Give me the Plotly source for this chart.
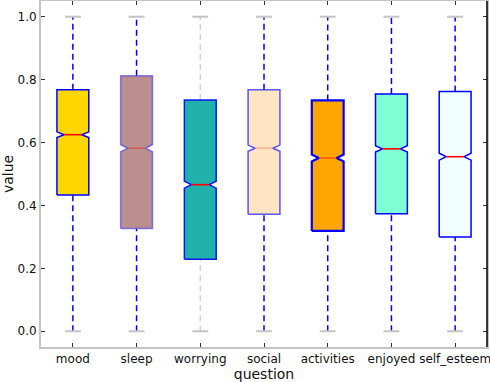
import plotly.graph_objects as go

questions = ["mood", "sleep", "worrying", "social", "activities", "enjoyed", "self_esteem"]
q1 = [0.433, 0.327, 0.229, 0.372, 0.319, 0.374, 0.300]
median = [0.625, 0.582, 0.466, 0.582, 0.551, 0.580, 0.555]
q3 = [0.768, 0.812, 0.735, 0.768, 0.734, 0.754, 0.762]
low = [0.0, 0.0, 0.0, 0.0, 0.0, 0.0, 0.0]
high = [1.0, 1.0, 1.0, 1.0, 1.0, 1.0, 1.0]
notch = [0.009, 0.011, 0.011, 0.010, 0.011, 0.010, 0.011]

fills = ["#FFD700", "#BC8F8F", "#20B2AA", "#FFE4C4", "#FFA500", "#7FFFD4", "#F0FFFF"]
edges = ["rgba(0,0,255,1)", "rgba(0,0,255,0.45)", "rgba(0,0,255,0.9)", "rgba(0,0,255,0.65)",
         "rgba(0,0,255,1)", "rgba(0,0,255,1)", "rgba(0,0,255,1)"]
edge_w = [1.5, 1.5, 1.5, 1.5, 2.2, 1.5, 1.5]
med_colors = ["rgba(255,0,0,1)", "rgba(255,0,0,0.35)", "rgba(255,0,0,1)", "rgba(255,0,0,0.25)",
              "rgba(255,0,0,0.45)", "rgba(255,0,0,1)", "rgba(255,0,0,1)"]
whisk_colors = ["rgba(0,0,255,1)", "rgba(0,0,255,1)", "rgba(0,0,255,0.2)", "rgba(0,0,255,1)",
                "rgba(0,0,255,1)", "rgba(0,0,255,1)", "rgba(0,0,255,1)"]

pos = list(range(1, len(questions) + 1))
half = 0.25      # half box width
mid_half = 0.14  # half width at the notch
cap_half = 0.125

fig = go.Figure()

# whiskers (dashed) under the boxes
for i, p in enumerate(pos):
    fig.add_trace(go.Scatter(
        x=[p, p, None, p, p], y=[low[i], q1[i], None, q3[i], high[i]],
        mode="lines", line=dict(color=whisk_colors[i], width=1.5, dash="6px,4px"),
        hoverinfo="skip", showlegend=False))

# notched boxes
for i, p in enumerate(pos):
    lo_n, hi_n = median[i] - notch[i], median[i] + notch[i]
    xs = [p - half, p + half, p + half, p + mid_half, p + half, p + half,
          p - half, p - half, p - mid_half, p - half, p - half]
    ys = [q1[i], q1[i], lo_n, median[i], hi_n, q3[i],
          q3[i], hi_n, median[i], lo_n, q1[i]]
    fig.add_trace(go.Scatter(
        x=xs, y=ys, mode="lines", fill="toself", fillcolor=fills[i],
        line=dict(color=edges[i], width=edge_w[i]), name=questions[i],
        hoverinfo="skip", showlegend=False))

# medians in red across the notch
for i, p in enumerate(pos):
    fig.add_trace(go.Scatter(
        x=[p - mid_half, p + mid_half], y=[median[i], median[i]], mode="lines",
        line=dict(color=med_colors[i], width=1.6), hoverinfo="skip", showlegend=False))

# caps
for i, p in enumerate(pos):
    fig.add_trace(go.Scatter(
        x=[p - cap_half, p + cap_half, None, p - cap_half, p + cap_half],
        y=[low[i], low[i], None, high[i], high[i]], mode="lines",
        line=dict(color="#C4C4C4", width=2), hoverinfo="skip", showlegend=False))

font = dict(family="DejaVu Sans", size=12, color="#111111")
fig.update_layout(
    width=490, height=382,
    margin=dict(l=41, r=3, t=1, b=35),
    paper_bgcolor="white", plot_bgcolor="white",
    font=font,
    xaxis=dict(range=[0.5, 7.5], tickvals=pos, ticktext=questions, automargin=False,
               ticklabeloverflow="allow",
               showgrid=False, zeroline=False, showline=True, linecolor="#C4C4C4",
               linewidth=2, mirror="ticks", ticks="inside", ticklen=4,
               tickcolor="#333333", title=dict(text="question", standoff=2)),
    yaxis=dict(range=[-0.05, 1.05], tickvals=[0, 0.2, 0.4, 0.6, 0.8, 1.0],
               ticktext=["0.0", "0.2", "0.4", "0.6", "0.8", "1.0"], automargin=False,
               showgrid=False, zeroline=False, showline=True, linecolor="#C4C4C4",
               linewidth=2, mirror="ticks", ticks="inside", ticklen=4,
               tickcolor="#333333", title=dict(text="value", standoff=6)),
    shapes=[dict(type="line", xref="paper", yref="paper", x0=1, x1=1, y0=0, y1=1,
                 line=dict(color="black", width=1.5), layer="above")],
)

# drop the browser's default body margin so the figure sits at the page corner
fig.write_html("out.html", config={"displayModeBar": False},
               post_script="document.body.style.margin='0';")
